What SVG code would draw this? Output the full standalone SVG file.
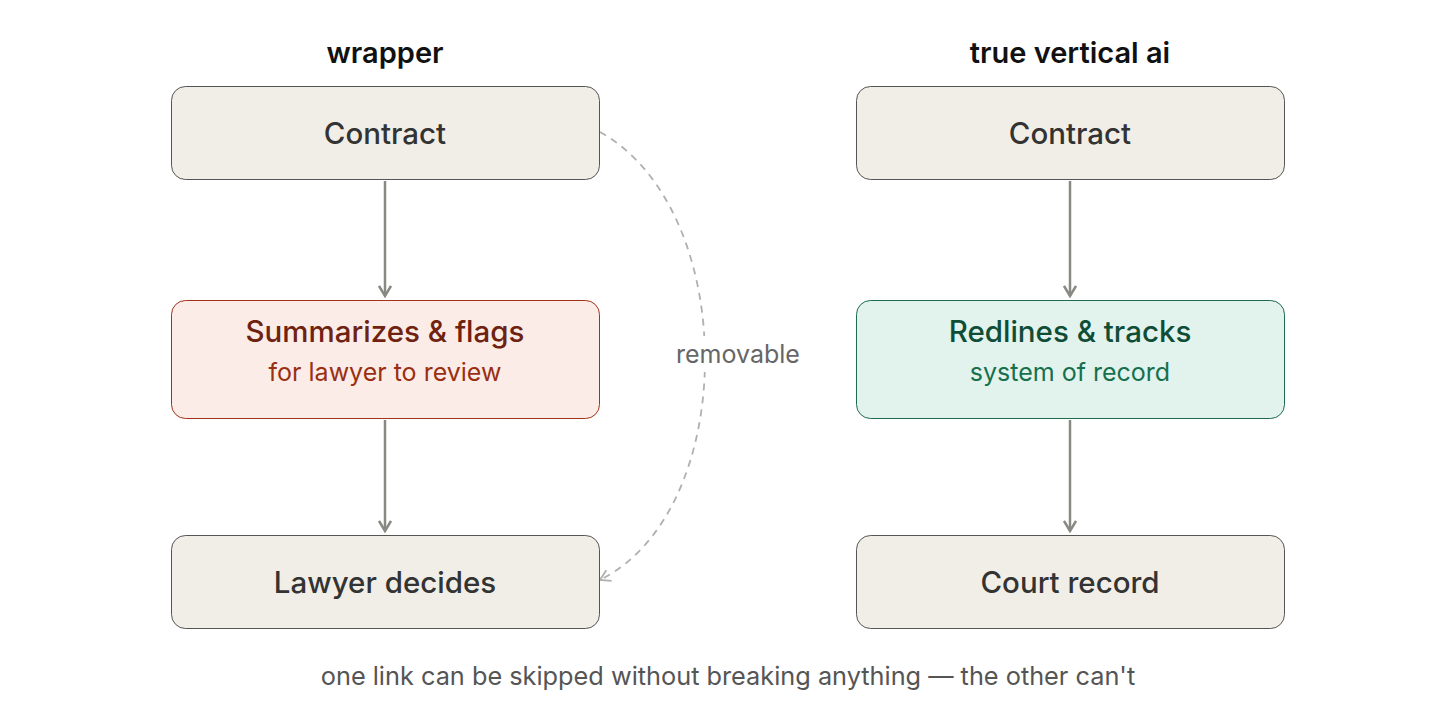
<svg xmlns="http://www.w3.org/2000/svg" width="1456" height="728" viewBox="0 0 1456 728">
<style>
text{font-family:Inter,"Noto Sans",sans-serif;text-anchor:middle}
.title{font-size:29px;font-weight:600;fill:#111}
.box{fill:#f1eee7;stroke:#555;stroke-width:1}
.lbl{font-size:29.5px;font-weight:500;fill:#333}
.red{fill:#fbece7;stroke:#a0331a}
.green{fill:#e1f3ec;stroke:#1d6b4c}
.redt{fill:#6f2210}
.reds{fill:#9a2f12;font-size:25px;font-weight:400}
.grnt{fill:#0f4d37}
.grns{fill:#16704e;font-size:25px;font-weight:400}
.conn{stroke:#8a8882;stroke-width:2.5;fill:none}
.dash{stroke:#b0b0ad;stroke-width:1.8;fill:none;stroke-dasharray:7 6}
</style>
<defs>
<marker id="ah" viewBox="0 0 14 14" refX="12" refY="7" markerWidth="14" markerHeight="14" markerUnits="userSpaceOnUse" orient="auto">
<path d="M2 1 L12 7 L2 13" fill="none" stroke="#8a8882" stroke-width="2.5"/>
</marker>
<marker id="ahd" viewBox="0 0 14 14" refX="12" refY="7" markerWidth="14" markerHeight="14" markerUnits="userSpaceOnUse" orient="auto">
<path d="M2 1 L12 7 L2 13" fill="none" stroke="#b0b0ad" stroke-width="1.8"/>
</marker>
</defs>
<rect width="1456" height="728" fill="#fff"/>
<text class="title" x="385" y="63">wrapper</text>
<text class="title" x="1070" y="63">true vertical ai</text>
<g id="connectors">
<line class="conn" x1="385" y1="181" x2="385" y2="296" marker-end="url(#ah)"/>
<line class="conn" x1="385" y1="420" x2="385" y2="531" marker-end="url(#ah)"/>
<line class="conn" x1="1070" y1="181" x2="1070" y2="296" marker-end="url(#ah)"/>
<line class="conn" x1="1070" y1="420" x2="1070" y2="531" marker-end="url(#ah)"/>
<path class="dash" d="M600 132 C740 210 740 510 600 580" marker-end="url(#ahd)"/>
<rect x="670" y="336" width="136" height="36" fill="#fff"/>
<text x="738" y="363" font-size="25" fill="#666">removable</text>
</g>
<g id="n-contract-l"><rect class="box" x="171.5" y="86.5" width="428" height="93" rx="14"/><text class="lbl" x="385" y="144">Contract</text></g>
<g id="n-summ"><rect class="box red" x="171.5" y="300.5" width="428" height="118" rx="14"/><text class="lbl redt" x="385" y="342">Summarizes &amp; flags</text><text class="reds" x="385" y="381">for lawyer to review</text></g>
<g id="n-lawyer"><rect class="box" x="171.5" y="535.5" width="428" height="93" rx="14"/><text class="lbl" x="385" y="593">Lawyer decides</text></g>
<g id="n-contract-r"><rect class="box" x="856.5" y="86.5" width="428" height="93" rx="14"/><text class="lbl" x="1070" y="144">Contract</text></g>
<g id="n-redlines"><rect class="box green" x="856.5" y="300.5" width="428" height="118" rx="14"/><text class="lbl grnt" x="1070" y="342">Redlines &amp; tracks</text><text class="grns" x="1070" y="381">system of record</text></g>
<g id="n-court"><rect class="box" x="856.5" y="535.5" width="428" height="93" rx="14"/><text class="lbl" x="1070" y="593">Court record</text></g>
<text x="728" y="685" font-size="25.3" fill="#555">one link can be skipped without breaking anything — the other can't</text>
</svg>
